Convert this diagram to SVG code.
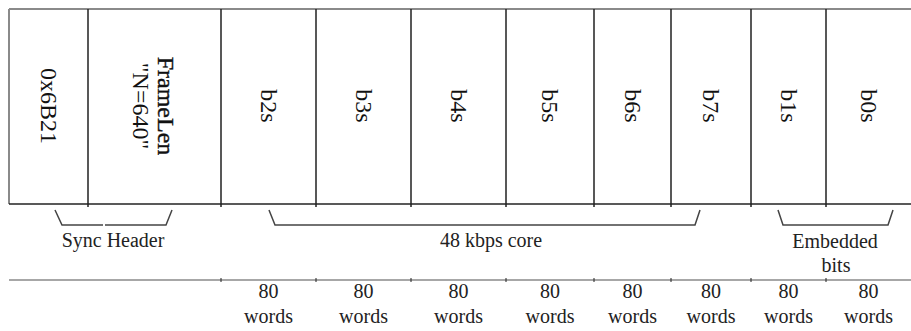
<svg xmlns="http://www.w3.org/2000/svg" width="911" height="331" viewBox="0 0 911 331">
<style>
.frame{stroke:#8a8a8a;stroke-width:2;fill:none}
.div{stroke:#222;stroke-width:1.5;fill:none}
.brace{stroke:#444;stroke-width:1.5;fill:none}
.rot{font-family:"Liberation Serif",serif;font-size:24px;fill:#111;text-anchor:middle}
.lbl{font-family:"Liberation Serif",serif;font-size:20px;fill:#222;text-anchor:middle}
</style>
<rect width="911" height="331" fill="#fff"/>
<g id="frame">
<path class="frame" d="M9,9 H911 M9,9 V204"/>
<path class="div" d="M9,204 H911"/>
<path class="frame" d="M9,280 H911" style="stroke-width:1.5"/>
</g>
<g id="dividers">
<path class="div" d="M88,9 V207 M221,9 V207 M316,9 V207 M411,9 V207 M506,9 V207 M594,9 V207 M671,9 V207 M751,9 V207 M826,9 V207"/>
<path class="div" d="M221,278 V282 M316,278 V282 M411,278 V282 M506,278 V282 M594,278 V282 M671,278 V282 M751,278 V282 M826,278 V282" style="stroke-width:1"/>
</g>
<g id="sync">
<text class="rot" transform="translate(48.5,106) rotate(90)" y="8">0x6B21</text>
</g>
<g id="framelen">
<text class="rot" transform="translate(154.5,106) rotate(90)" y="-3.5" style="stroke:#111;stroke-width:0.4">FrameLen</text>
<text class="rot" transform="translate(154.5,106) rotate(90)" y="21.5">"N=640"</text>
</g>
<g id="b2s"><text class="rot" transform="translate(268.5,106) rotate(90)" y="8">b2s</text><text class="lbl" x="268.5" y="298">80</text><text class="lbl" x="268.5" y="323">words</text></g>
<g id="b3s"><text class="rot" transform="translate(363.5,106) rotate(90)" y="8">b3s</text><text class="lbl" x="363.5" y="298">80</text><text class="lbl" x="363.5" y="323">words</text></g>
<g id="b4s"><text class="rot" transform="translate(458.5,106) rotate(90)" y="8">b4s</text><text class="lbl" x="458.5" y="298">80</text><text class="lbl" x="458.5" y="323">words</text></g>
<g id="b5s"><text class="rot" transform="translate(550,106) rotate(90)" y="8">b5s</text><text class="lbl" x="550" y="298">80</text><text class="lbl" x="550" y="323">words</text></g>
<g id="b6s"><text class="rot" transform="translate(632.5,106) rotate(90)" y="8">b6s</text><text class="lbl" x="632.5" y="298">80</text><text class="lbl" x="632.5" y="323">words</text></g>
<g id="b7s"><text class="rot" transform="translate(711,106) rotate(90)" y="8">b7s</text><text class="lbl" x="711" y="298">80</text><text class="lbl" x="711" y="323">words</text></g>
<g id="b1s"><text class="rot" transform="translate(788.5,106) rotate(90)" y="8">b1s</text><text class="lbl" x="788.5" y="298">80</text><text class="lbl" x="788.5" y="323">words</text></g>
<g id="b0s"><text class="rot" transform="translate(868.5,106) rotate(90)" y="8">b0s</text><text class="lbl" x="868.5" y="298">80</text><text class="lbl" x="868.5" y="323">words</text></g>
<g id="connectors">
<path class="brace" d="M55,210 L62,225 H103 M105,225 H166 L172,210"/>
<path class="brace" d="M269,210 L275,225 H695 L700,210"/>
<path class="brace" d="M778,210 L783,225 H888 L893,210"/>
</g>
<g id="groups">
<text class="lbl" x="113" y="247">Sync Header</text>
<text class="lbl" x="491" y="247">48 kbps core</text>
<text class="lbl" x="835" y="248">Embedded</text>
<text class="lbl" x="836" y="272">bits</text>
</g>
</svg>
